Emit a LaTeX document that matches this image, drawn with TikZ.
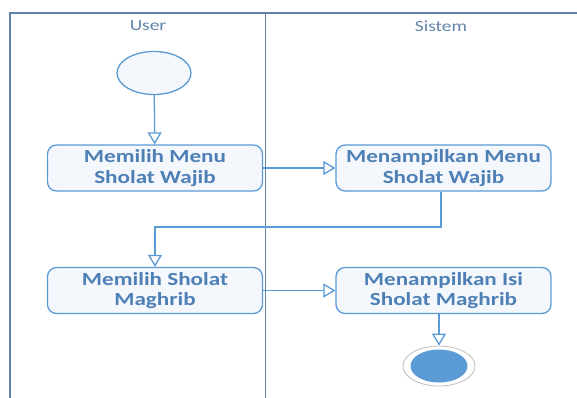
\documentclass[tikz,border=0pt]{standalone}
\usepackage{fontspec}
\setmainfont{Carlito}[FakeStretch=1.25]
\usetikzlibrary{arrows.meta,shapes.geometric}
\definecolor{lineblue}{RGB}{91,155,213}
\definecolor{textblue}{RGB}{78,128,182}
\definecolor{frameblue}{RGB}{98,132,170}
\definecolor{boxfill}{RGB}{244,247,252}
\begin{document}
\begin{tikzpicture}[x=1pt,y=-1pt,
  act/.style={draw=lineblue,line width=1.3pt,rounded corners=9pt,fill=boxfill,
    minimum width=215pt,minimum height=46pt,align=center,text=textblue,
    font=\fontsize{18.5}{20.5}\selectfont\bfseries,inner sep=0pt},
  flow/.style={draw=lineblue,line width=1.3pt,-{Triangle[open,length=12pt,width=14pt,fill=white]}},
  hdr/.style={text=frameblue,font=\fontsize{15.5}{17}\selectfont},
  lane/.style={draw=frameblue,line width=1.3pt}]
\useasboundingbox (0,0) rectangle (577,397);
\fill[white] (0,0) rectangle (577,397);
% swimlanes
\draw[lane] (10,400) -- (10,13) -- (580,13);
\draw[lane] (265.5,13) -- (265.5,400);
\node[hdr] (huser) at (148,26) {User};
\node[hdr] (hsis) at (441,26) {Sistem};
% nodes
\node[ellipse,draw=lineblue,line width=1.3pt,fill=boxfill,minimum width=74pt,minimum height=43pt,inner sep=0pt] (start) at (154,73) {};
\node[act] (a1) at (155,168) {Memilih Menu\\Sholat Wajib};
\node[act] (a2) at (443.5,168) {Menampilkan Menu\\Sholat Wajib};
\node[act] (a3) at (155,290.5) {Memilih Sholat\\Maghrib};
\node[act] (a4) at (443.5,290.5) {Menampilkan Isi\\Sholat Maghrib};
\node[ellipse,draw=black!25,line width=0.8pt,fill=white,minimum width=72pt,minimum height=40pt,inner sep=0pt] (endo) at (439,366) {};
\node[ellipse,fill=lineblue,minimum width=57pt,minimum height=33pt,inner sep=0pt] (endi) at (endo.center) {};
% flows
\draw[flow] (start) -- (a1);
\draw[flow] (a1) -- (a2);
\coordinate (c1) at (441,227);
\draw[flow] (a2.south -| c1) -- (c1) -| (a3.north);
\draw[flow] (a3) -- (a4);
\draw[flow] (a4.south -| endo) -- (endo.north);
\end{tikzpicture}
\end{document}
